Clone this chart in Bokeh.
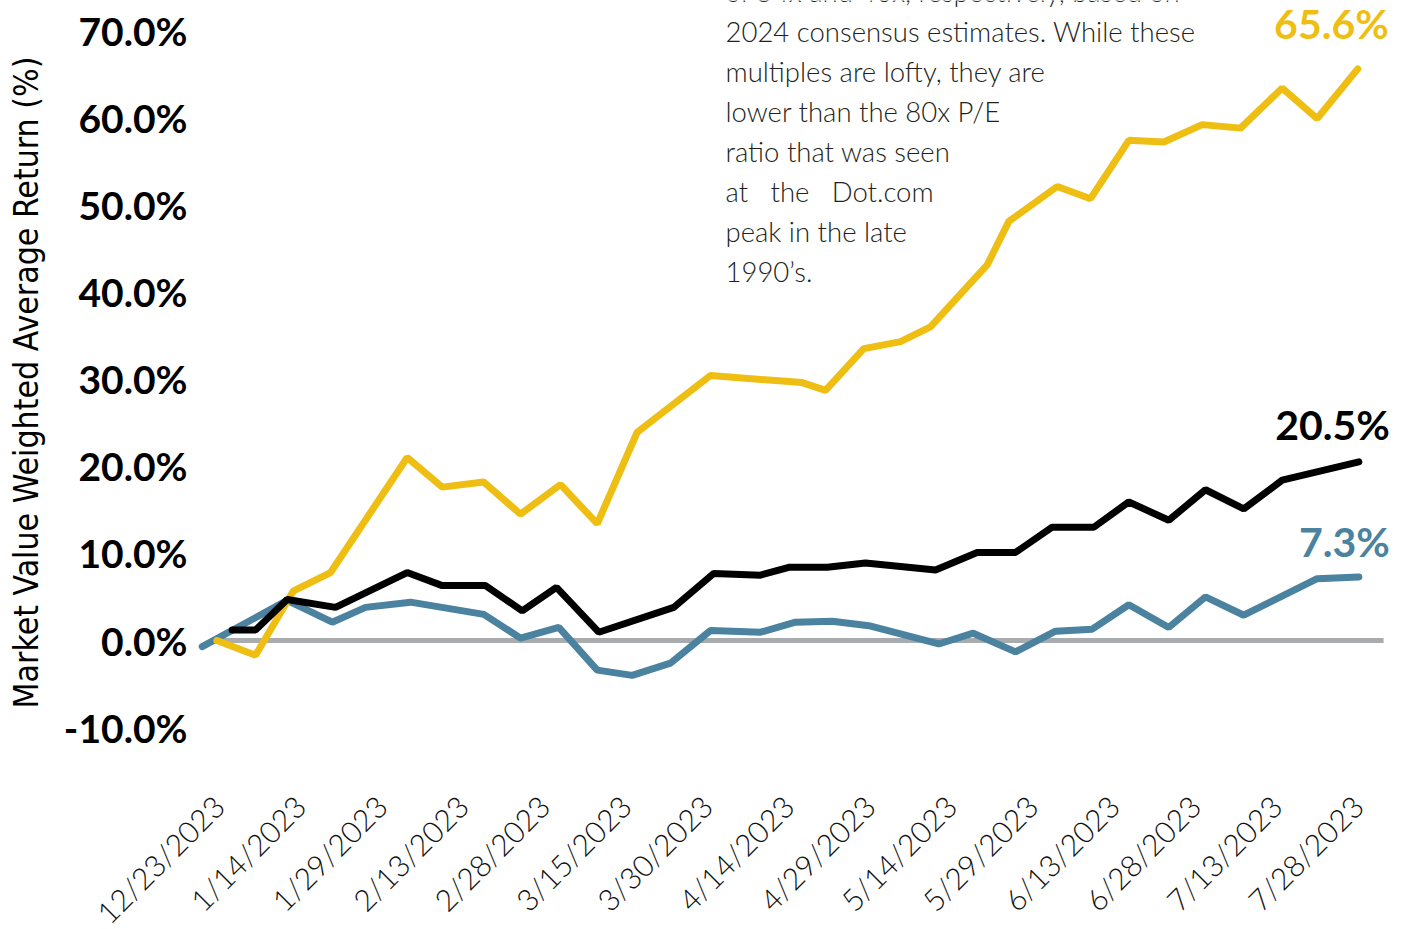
import math
from bokeh.plotting import figure
from bokeh.models import FixedTicker, Range1d, Label
from bokeh.embed import file_html
from bokeh.resources import INLINE

# ---------------- data ----------------
tick_labels = ["12/23/2023", "1/14/2023", "1/29/2023", "2/13/2023", "2/28/2023",
               "3/15/2023", "3/30/2023", "4/14/2023", "4/29/2023", "5/14/2023",
               "5/29/2023", "6/13/2023", "6/28/2023", "7/13/2023", "7/28/2023"]
y_ticks = [-10, 0, 10, 20, 30, 40, 50, 60, 70]

# x positions expressed in label-slot units (0 = first label, 14 = last label)
yellow_x = [-0.02, 0.455, 0.922, 1.377, 2.319, 2.750, 3.257, 3.712, 4.204, 4.655,
            5.146, 6.047, 7.174, 7.461, 7.931, 8.383, 8.751, 9.448, 9.714, 10.309,
            10.718, 11.189, 11.619, 12.091, 12.562, 13.074, 13.504, 14.003]
yellow_y = [0.0, -1.7, 5.7, 7.8, 21.0, 17.6, 18.2, 14.5, 17.9, 13.4,
            23.9, 30.4, 29.6, 28.7, 33.5, 34.3, 36.0, 43.1, 48.1, 52.1,
            50.7, 57.4, 57.2, 59.2, 58.8, 63.4, 59.9, 65.6]

black_x = [0.168, 0.455, 0.844, 1.438, 2.319, 2.750, 3.282, 3.733, 4.154, 4.674,
           5.596, 6.088, 6.662, 7.010, 7.482, 7.952, 8.813, 9.325, 9.796, 10.247,
           10.758, 11.189, 11.680, 12.131, 12.602, 13.074, 14.016]
black_y = [1.2, 1.2, 4.7, 3.8, 7.8, 6.3, 6.3, 3.4, 6.1, 0.95,
           3.8, 7.7, 7.5, 8.4, 8.4, 8.9, 8.1, 10.1, 10.1, 13.0,
           13.0, 15.9, 13.8, 17.3, 15.1, 18.4, 20.5]

blue_x = [-0.200, 0.844, 1.398, 1.807, 2.360, 3.261, 3.712, 4.183, 4.655, 5.085,
          5.556, 6.047, 6.662, 7.092, 7.543, 7.993, 8.853, 9.276, 9.796, 10.288,
          10.739, 11.189, 11.680, 12.131, 12.602, 13.504, 14.016]
blue_y = [-0.7, 4.6, 2.1, 3.8, 4.4, 3.0, 0.27, 1.5, -3.4, -4.0,
          -2.6, 1.15, 0.95, 2.1, 2.2, 1.7, -0.4, 0.84, -1.3, 1.07,
          1.3, 4.1, 1.5, 5.0, 2.9, 7.1, 7.3]

note_lines = ["of 54x and 40x, respectively, based on",
              "2024 consensus estimates. While these",
              "multiples are lofty, they are",
              "lower than the 80x P/E",
              "ratio that was seen",
              "at\u00a0\u00a0 the\u00a0\u00a0 Dot.com",
              "peak in the late",
              "1990\u2019s."]

y_title = "Market Value Weighted Average Return (%)"

YELLOW = "#EFBE12"
BLACK = "#000000"
BLUE = "#4A82A0"
GRAY = "#A8ACAE"

# layout helpers (pixel geometry of the 1403x929 canvas)
W, H = 1403, 929
X0_PX, X_STEP_PX = 218.0, 81.36     # pixel of first date slot, pixels per slot
Y0_PX, Y_STEP_PX = 640.0, 8.714     # pixel of 0 %, pixels per 1 %


def px_to_x(px):
    return (px - X0_PX) / X_STEP_PX


def py_to_y(py):
    return (Y0_PX - py) / Y_STEP_PX


# ---------------- figure ----------------
p = figure(width=W, height=H, output_backend="svg", toolbar_location=None,
           x_range=Range1d(px_to_x(0), px_to_x(W)),
           y_range=Range1d(py_to_y(H), py_to_y(0)),
           min_border_left=0, min_border_right=0, min_border_top=0,
           min_border_bottom=0)
p.outline_line_color = None
p.grid.visible = False
p.background_fill_color = "white"
p.border_fill_color = "white"

# y axis
p.yaxis.ticker = FixedTicker(ticks=y_ticks)
p.yaxis.major_label_overrides = {v: f"{v:.1f}%" for v in y_ticks}
p.yaxis.major_label_text_font = "Lato"
p.yaxis.major_label_text_font_style = "bold"
p.yaxis.major_label_text_font_size = "39px"
p.yaxis.major_label_text_color = "#000000"
p.yaxis.major_label_standoff = 10
p.yaxis.major_tick_out = 0
p.yaxis.major_tick_in = 0
p.yaxis.axis_line_color = None
p.yaxis.major_tick_line_color = None
p.yaxis.minor_tick_line_color = None
p.yaxis.fixed_location = px_to_x(197)

# y-axis title
p.add_layout(Label(x=px_to_x(26), y=py_to_y(382), text=y_title, angle=math.pi / 2,
                   text_font="DejaVu Sans Condensed", text_font_size="33.5px",
                   text_color="#000000", text_align="center", text_baseline="middle"))

# x axis
x_ticks = list(range(len(tick_labels)))
p.xaxis.ticker = FixedTicker(ticks=x_ticks)
p.xaxis.major_label_overrides = {i: lab for i, lab in enumerate(tick_labels)}
p.xaxis.major_label_orientation = math.pi / 4
p.xaxis.major_label_text_font = "Lato Light"
p.xaxis.major_label_text_font_size = "30px"
p.xaxis.major_label_text_color = "#111111"
p.xaxis.major_label_standoff = 12
p.xaxis.major_tick_out = 0
p.xaxis.major_tick_in = 0
p.xaxis.axis_line_color = None
p.xaxis.major_tick_line_color = None
p.xaxis.minor_tick_line_color = None
p.xaxis.fixed_location = py_to_y(788)

# zero line
zero_x = [x_ticks[0], x_ticks[-1] + 0.32]
p.line(zero_x, [0, 0], line_color=GRAY, line_width=5)

# series
p.line(blue_x, blue_y, line_color=BLUE, line_width=7, line_cap="round")
p.line(yellow_x, yellow_y, line_color=YELLOW, line_width=7, line_cap="round")
p.line(black_x, black_y, line_color=BLACK, line_width=7, line_cap="round")

# end labels
for xs, ys, col, dy in [(yellow_x, yellow_y, YELLOW, 45),
                        (black_x, black_y, BLACK, 37),
                        (blue_x, blue_y, BLUE, 35)]:
    p.add_layout(Label(x=xs[-1], y=ys[-1], text=f"{ys[-1]:.1f}%", text_color=col,
                       text_font="Lato", text_font_style="bold", text_font_size="41px",
                       text_align="right", text_baseline="middle",
                       x_offset=31, y_offset=dy))

# annotation text (top, partially cut off as in the original)
for i, line in enumerate(note_lines):
    p.add_layout(Label(x=px_to_x(725), y=py_to_y(-9 + 40 * i), text=line,
                       text_font="Lato Light", text_font_size="27.5px",
                       text_color="#231F20", text_baseline="alphabetic",
                       text_align="left"))

open("out.html", "w").write(file_html(p, INLINE))
